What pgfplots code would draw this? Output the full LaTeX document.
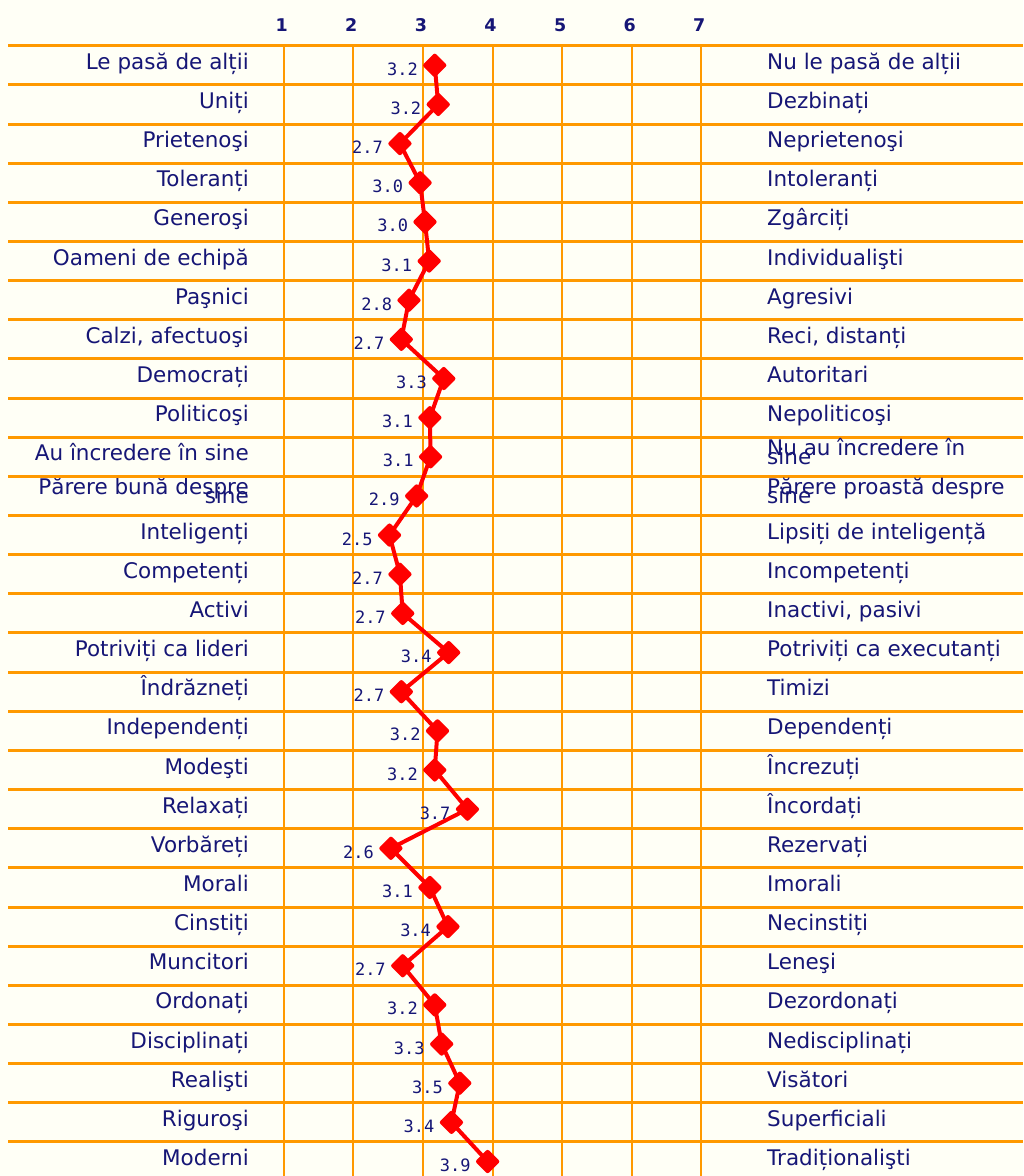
\documentclass[border=0pt]{standalone}
\usepackage{fontspec}
\setmainfont{DejaVu Sans}
\newfontfamily\labfont{DejaVu Sans Mono}
\usepackage{pgfplots}
\usepackage{pgfplotstable}
\pgfplotsset{compat=1.18}
\definecolor{navy}{RGB}{22,22,118}
\definecolor{gridor}{RGB}{255,153,0}
\definecolor{cream}{RGB}{255,255,246}
\definecolor{linered}{RGB}{255,0,0}

\pgfplotstableread{
y x lab
0 3.17 3.2
1 3.22 3.2
2 2.67 2.7
3 2.96 3.0
4 3.03 3.0
5 3.09 3.1
6 2.80 2.8
7 2.69 2.7
8 3.30 3.3
9 3.10 3.1
10 3.11 3.1
11 2.91 2.9
12 2.52 2.5
13 2.67 2.7
14 2.71 2.7
15 3.37 3.4
16 2.69 2.7
17 3.21 3.2
18 3.17 3.2
19 3.64 3.7
20 2.54 2.6
21 3.10 3.1
22 3.36 3.4
23 2.71 2.7
24 3.17 3.2
25 3.27 3.3
26 3.53 3.5
27 3.41 3.4
28 3.93 3.9
}\data

\begin{document}
\begin{tikzpicture}
\begin{axis}[
  name=ax,
  scale only axis,
  width=1023pt, height=1176pt,
  xmin=-3.076, xmax=11.622,
  ymin=-1.668, ymax=28.37,
  y dir=reverse,
  clip=false,
  axis line style={draw=none},
  axis background/.style={fill=cream},
  major tick length=0pt,
  xtick={1,2,3,4,5,6,7},
  xticklabels={1,2,3,4,5,6,7},
  xticklabel pos=upper,
  xticklabel style={font=\bfseries\fontsize{17.5}{17.5}\selectfont, text=navy, anchor=base, inner sep=0pt, yshift=-31pt, xshift=-2pt},
  ytick={0,...,28},
  yticklabels={
    Le pasă de alții, Uniți, Prietenoşi, Toleranți, Generoşi, Oameni de echipă,
    Paşnici, {Calzi, afectuoşi}, Democrați, Politicoşi, Au încredere în sine,
    {\raisebox{5pt}{Părere bună despre}\llap{\raisebox{-4pt}{sine}}},
    Inteligenți, Competenți, Activi, Potriviți ca lideri, Îndrăzneți,
    Independenți, Modeşti, Relaxați, Vorbăreți, Morali, Cinstiți, Muncitori,
    Ordonați, Disciplinați, Realişti, Riguroşi, Moderni},
  yticklabel style={font=\fontsize{21.5}{22}\selectfont, text=navy, anchor=base east, inner sep=0pt, xshift=249pt, yshift=-4pt},
]
\pgfplotsinvokeforeach{0,...,28}{
  \draw[gridor, line width=3pt] (axis cs:-2.961,#1-0.5) -- (axis cs:11.622,#1-0.5);
}
\pgfplotsinvokeforeach{1,...,7}{
  \draw[gridor, line width=2pt] (axis cs:#1,-0.5) -- (axis cs:#1,28.37);
}
\addplot[linered, line width=4pt, line join=round,
  mark=square*, mark size=6.8pt,
  mark options={rotate=45, fill=linered, draw=none, solid},
  point meta=explicit symbolic,
  nodes near coords,
  every node near coord/.append style={font=\labfont\fontsize{17}{17}\selectfont, text=navy, anchor=base east, inner sep=0pt, xshift=-15pt, yshift=-10pt},
] table[x=x, y=y, meta=lab] {\data};
\end{axis}
\begin{axis}[
  scale only axis,
  width=1023pt, height=1176pt,
  xmin=-3.076, xmax=11.622,
  ymin=-1.668, ymax=28.37,
  y dir=reverse,
  axis line style={draw=none},
  major tick length=0pt,
  xtick=\empty,
  ytick={0,...,28},
  yticklabel pos=right,
  yticklabels={
    Nu le pasă de alții, Dezbinați, Neprietenoşi, Intoleranți, Zgârciți,
    Individualişti, Agresivi, {Reci, distanți}, Autoritari, Nepoliticoşi,
    {\rlap{\raisebox{-4pt}{sine}}\raisebox{5pt}{Nu au încredere în}},
    {\rlap{\raisebox{-4pt}{sine}}\raisebox{5pt}{Părere proastă despre}},
    Lipsiți de inteligență, Incompetenți, {Inactivi, pasivi},
    Potriviți ca executanți, Timizi, Dependenți, Încrezuți, Încordați,
    Rezervați, Imorali, Necinstiți, Leneşi, Dezordonați, Nedisciplinați,
    Visători, Superficiali, Tradiționalişti},
  yticklabel style={font=\fontsize{21.5}{22}\selectfont, text=navy, anchor=base west, inner sep=0pt, xshift=-256pt, yshift=-4pt},
]
\addplot[draw=none] coordinates {(0,0)};
\end{axis}
\pgfresetboundingbox
\useasboundingbox (ax.south west) rectangle (ax.north east);
\end{tikzpicture}
\end{document}
